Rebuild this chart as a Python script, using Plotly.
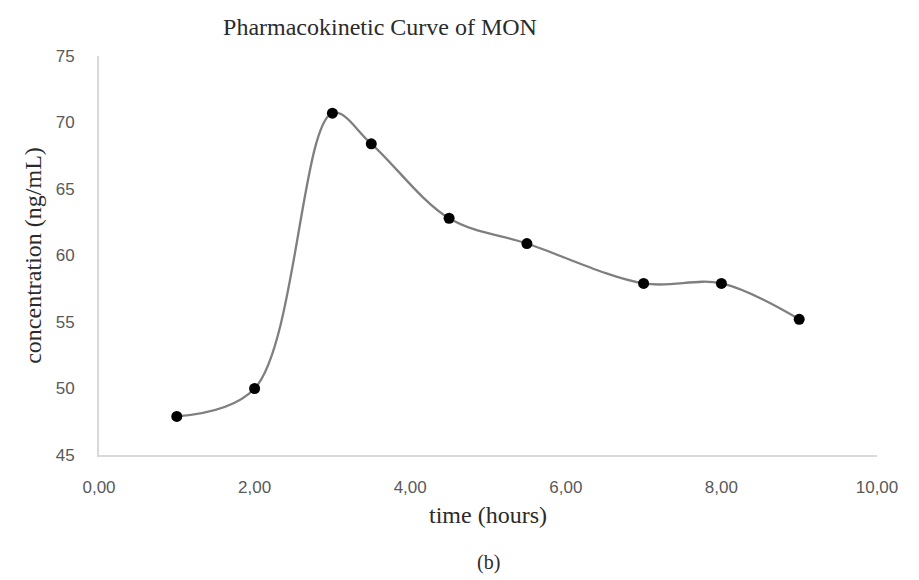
import plotly.graph_objects as go

time_hours = [1, 2, 3, 3.5, 4.5, 5.5, 7, 8, 9]
concentration = [47.9, 50.0, 70.7, 68.4, 62.8, 60.9, 57.9, 57.9, 55.2]
x_ticks = [0, 2, 4, 6, 8, 10]
x_tick_labels = ["0,00", "2,00", "4,00", "6,00", "8,00", "10,00"]
y_ticks = [45, 50, 55, 60, 65, 70, 75]

serif = "Liberation Serif, Times New Roman, serif"
sans = "Liberation Sans, Arial, sans-serif"

# page body has an 8px offset; figure coordinates are screen minus 8
OFF = 8
L, R, T, B = 99 - OFF, 919 - (877 - OFF), 56 - OFF, 580 - (455 - OFF)
plot_h = 580 - T - B

fig = go.Figure()
fig.add_trace(go.Scatter(
    x=time_hours, y=concentration, mode="lines+markers",
    line=dict(color="#7f7f7f", width=2.3, shape="spline", smoothing=1.0),
    marker=dict(color="#000000", size=11),
    showlegend=False,
))

fig.update_layout(
    width=919, height=580,
    margin=dict(l=L, r=R, t=T, b=B, autoexpand=False),
    paper_bgcolor="white", plot_bgcolor="white",
    title=dict(text="Pharmacokinetic Curve of MON", x=(380 - OFF)/919, xanchor="center",
               y=1 - (27 - OFF)/580, yanchor="middle",
               font=dict(family=serif, size=24, color="#2b2b2b")),
    xaxis=dict(range=[0, 10], tickvals=x_ticks, ticktext=x_tick_labels,
               showgrid=False, zeroline=False, showline=True, linecolor="#d9d9d9",
               linewidth=2, ticks="", ticklabelstandoff=16, automargin=False,
               tickfont=dict(family=sans, size=17, color="#595959"),
               title=dict(text="time (hours)", font=dict(family=serif, size=24, color="#2b2b2b"),
                          standoff=10)),
    yaxis=dict(range=[45, 75], tickvals=y_ticks,
               showgrid=False, zeroline=False, showline=True, linecolor="#d9d9d9",
               linewidth=2, ticks="", ticklabelstandoff=19, automargin=False,
               tickfont=dict(family=sans, size=17, color="#595959"),
               title=dict(text="concentration (ng/mL)", font=dict(family=serif, size=24, color="#2b2b2b"),
                          standoff=7)),
    annotations=[dict(text="(b)", x=0.5, xref="paper", y=-(562 - 455) / plot_h,
                      yref="paper", yanchor="middle",
                      showarrow=False, font=dict(family=serif, size=20, color="#2b2b2b"))],
)

fig.write_html("out.html")
